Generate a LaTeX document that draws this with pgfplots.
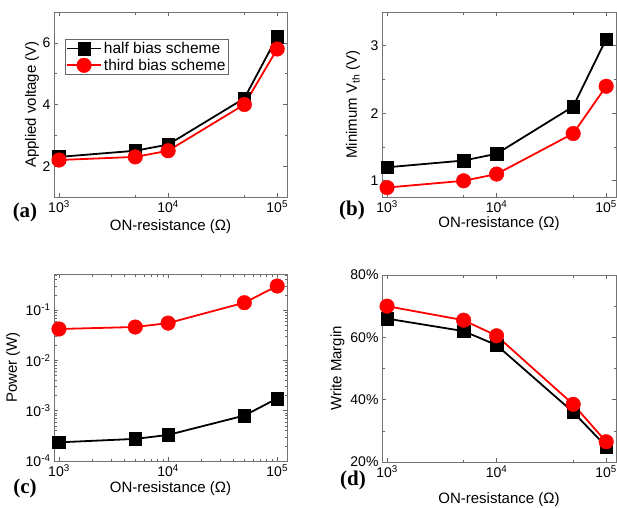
\documentclass[border=0pt]{standalone}
\usepackage{fontspec}
\setmainfont{Liberation Sans}
\newfontfamily\timesfont{Liberation Serif}
\usepackage{pgfplots}
\pgfplotsset{compat=1.18}

\pgfplotsset{
  cmnax/.style={
    scale only axis,
    xmin=900, xmax=1.23e5,
    xtick={1e3,1e4,1e5},
    xticklabels={10\textsuperscript{3},10\textsuperscript{4},10\textsuperscript{5}},
    tick align=inside, major tick length=4pt, minor tick length=2.5pt,
    axis line style={black!55, line width=0.8pt},
    tick style={black!60, line width=0.6pt},
    tick label style={font=\fontsize{14}{16}\selectfont},
    label style={font=\fontsize{15}{17}\selectfont},
    /pgf/number format/assume math mode=true,
    xlabel={ON-resistance (Ω)},
  },
  halfpl/.style={black, line width=1.8pt, mark=square*, mark size=6.3pt, mark options={line width=0.4pt}},
  thirdpl/.style={red, line width=1.8pt, mark=*, mark size=7.3pt, mark options={line width=0.4pt}},
}

\begin{document}
\begin{tikzpicture}
\path[use as bounding box] (0,0) rectangle (617pt,507pt);

% (a) applied voltage
\begin{axis}[xmode=log, cmnax, anchor=south west, at={(54pt,310pt)}, width=233pt, height=185pt,
    minor xtick={5e3,5e4},
    ymin=1, ymax=7, ytick={2,4,6}, minor ytick={1,3,5,7},
    ylabel={Applied voltage (V)},
    ylabel style={at={(axis description cs:-0.094,0.5)}, anchor=center},
    xlabel style={at={(axis description cs:0.5,-0.16)}, anchor=center},
    legend style={at={(0.047,0.854)}, anchor=north west, draw=black!60,
      font=\fontsize{15.5}{15.5}\selectfont, inner sep=1pt, row sep=0pt,
      cells={anchor=west}},
    legend image code/.code={\draw[mark repeat=2,mark phase=2,#1]
      plot coordinates {(0pt,0pt) (17pt,0pt) (34pt,0pt)};},
  ]
\addplot[halfpl] coordinates {(1e3,2.3) (5e3,2.5) (1e4,2.7) (5e4,4.2) (1e5,6.2)};
\addlegendentry{half bias scheme}
\addplot[thirdpl] coordinates {(1e3,2.2) (5e3,2.3) (1e4,2.5) (5e4,4.0) (1e5,5.8)};
\addlegendentry{third bias scheme}
\end{axis}

% (b) minimum Vth
\begin{axis}[xmode=log, cmnax, anchor=south west, at={(382pt,310pt)}, width=234pt, height=185pt,
    minor xtick={5e3,5e4},
    ymin=0.76, ymax=3.5, ytick={1,2,3}, minor ytick={1.5,2.5,3.5},
    ylabel={Minimum V\textsubscript{th} (V)},
    ylabel style={at={(axis description cs:-0.124,0.5)}, anchor=center},
    xlabel style={at={(axis description cs:0.5,-0.145)}, anchor=center},
  ]
\addplot[halfpl] coordinates {(1e3,1.2) (5e3,1.3) (1e4,1.4) (5e4,2.1) (1e5,3.1)};
\addplot[thirdpl] coordinates {(1e3,0.9) (5e3,1.0) (1e4,1.1) (5e4,1.7) (1e5,2.4)};
\end{axis}

% (c) power
\begin{axis}[xmode=log, ymode=log, cmnax, anchor=south west, at={(54pt,46pt)}, width=233pt, height=187pt,
    ymin=1e-4, ymax=0.52,
    minor xtick={2e3,3e3,4e3,5e3,6e3,7e3,8e3,9e3,2e4,3e4,4e4,5e4,6e4,7e4,8e4,9e4},
    ytick={1e-4,1e-3,1e-2,1e-1},
    yticklabels={10\textsuperscript{-4},10\textsuperscript{-3},10\textsuperscript{-2},10\textsuperscript{-1}},
    minor ytick={2e-4,3e-4,4e-4,5e-4,6e-4,7e-4,8e-4,9e-4,2e-3,3e-3,4e-3,5e-3,6e-3,7e-3,8e-3,9e-3,2e-2,3e-2,4e-2,5e-2,6e-2,7e-2,8e-2,9e-2,2e-1,3e-1,4e-1,5e-1},
    ylabel={Power (W)},
    ylabel style={at={(axis description cs:-0.176,0.5)}, anchor=center},
    xlabel style={at={(axis description cs:0.5,-0.145)}, anchor=center},
  ]
\addplot[halfpl] coordinates {(1e3,2.35e-4) (5e3,2.75e-4) (1e4,3.3e-4) (5e4,8e-4) (1e5,1.75e-3)};
\addplot[thirdpl] coordinates {(1e3,0.042) (5e3,0.046) (1e4,0.055) (5e4,0.14) (1e5,0.30)};
\end{axis}

% (d) write margin
\begin{axis}[xmode=log, cmnax, anchor=south west, at={(382pt,45pt)}, width=234pt, height=187pt,
    minor xtick={5e3,5e4},
    ymin=0.2, ymax=0.8, ytick={0.2,0.4,0.6,0.8},
    yticklabels={20\%,40\%,60\%,80\%}, minor ytick={0.3,0.5,0.7},
    ylabel={Write Margin},
    ylabel style={at={(axis description cs:-0.19,0.5)}, anchor=center},
    xlabel style={at={(axis description cs:0.5,-0.2)}, anchor=center},
  ]
\addplot[halfpl] coordinates {(1e3,0.66) (5e3,0.62) (1e4,0.575) (5e4,0.36) (1e5,0.25)};
\addplot[thirdpl] coordinates {(1e3,0.70) (5e3,0.655) (1e4,0.605) (5e4,0.385) (1e5,0.265)};
\end{axis}

\node[font=\timesfont\bfseries\fontsize{21}{21}\selectfont] at (25pt,295pt) {(a)};
\node[font=\timesfont\bfseries\fontsize{21}{21}\selectfont] at (352pt,297pt) {(b)};
\node[font=\timesfont\bfseries\fontsize{21}{21}\selectfont] at (25pt,19pt) {(c)};
\node[font=\timesfont\bfseries\fontsize{21}{21}\selectfont] at (353pt,27pt) {(d)};
\end{tikzpicture}
\end{document}
